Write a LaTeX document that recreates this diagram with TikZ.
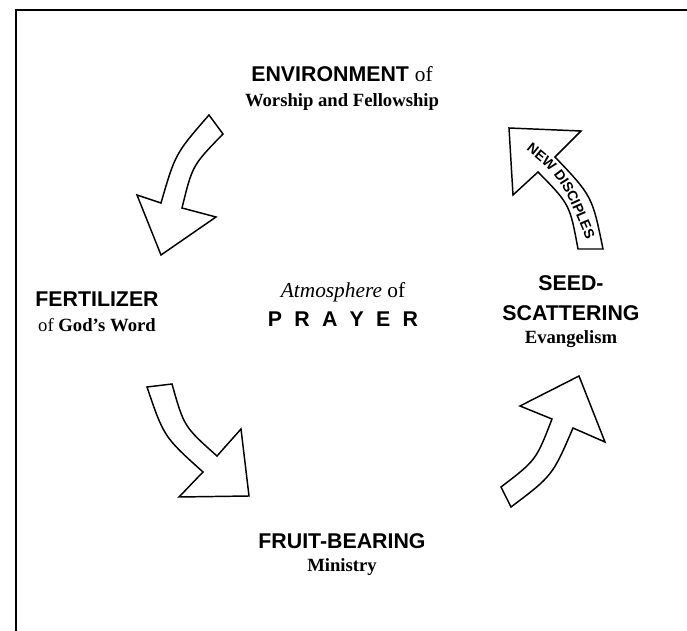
\documentclass[tikz,border=0pt]{standalone}
\usepackage{fontspec}
\setmainfont{Liberation Serif}
\setsansfont{Liberation Sans}
\usetikzlibrary{decorations.text}

\tikzset{
  bigarrow/.style={draw, line width=1.1pt, fill=white, line join=miter},
  stage/.style={anchor=base, inner sep=0pt, font=\sffamily\bfseries\fontsize{16}{19}\selectfont},
  what/.style={anchor=base, inner sep=0pt, font=\bfseries\fontsize{14}{17}\selectfont},
}

\begin{document}
\begin{tikzpicture}[x=0.75pt, y=-0.75pt]
        \def\gap{\hspace{9.2pt}}

        \useasboundingbox (0,0) rectangle (687,631) ;
        \draw [line width=1.2pt] (16,640) -- (16,10) -- (700,10) ;

        % the four curved arrows of the cycle
        \draw [bigarrow] (209,115) .. controls (175.3,153.7) .. (161,203) -- (137,195) -- (161,255) -- (216,217) -- (182,208) .. controls (192.4,165.4) .. (223,134) -- cycle ;
        \draw [bigarrow] (147,387) .. controls (163.9,436.8) .. (203,472) -- (179,497) -- (249,496) -- (241,429) -- (217,456) .. controls (184,426.6) .. (172,384) -- cycle ;
        \draw [bigarrow] (501,487) .. controls (536.1,460.2) .. (552,419) -- (520,406) -- (579,376) -- (605,442) -- (573,428) .. controls (552.5,475.7) .. (511,507) -- cycle ;
        \draw [bigarrow] (603,249) .. controls (592.2,196.1) .. (555,157) -- (581,131) -- (509,128) -- (513,195) -- (538,172) .. controls (569.8,204.4) .. (578,249) -- cycle ;
        \path [decorate, decoration={text along path, text align=left,
          text={|\sffamily\bfseries\fontsize{10.5}{12}\selectfont|NEW DISCIPLES}}]
          (526,150) .. controls (561,178) .. (594,258) ;

        \node [stage] (env) at (342,81.6) {ENVIRONMENT {\rmfamily\mdseries of}} ;
        \node [what] (envsub) at (342,107) {Worship and Fellowship} ;
        \node [stage] (fert) at (97,306.6) {FERTILIZER} ;
        \node [what] (fertsub) at (97,332) {{\mdseries of} God's Word} ;
        \node [anchor=base, inner sep=0pt, font=\itshape\fontsize{16}{19}\selectfont] (atmo) at (343,298) {Atmosphere {\upshape of}} ;
        \node [stage] (prayer) at (343,326.6) {P\gap R\gap A\gap Y\gap E\gap R} ;
        \node [stage] (seed) at (571,290.6) {SEED-} ;
        \node [stage] (scatter) at (571,320.6) {SCATTERING} ;
        \node [what] (evang) at (571,344) {Evangelism} ;
        \node [stage] (fruit) at (342,548.6) {FRUIT-BEARING} ;
        \node [what] (ministry) at (342,572) {Ministry} ;
\end{tikzpicture}
\end{document}
